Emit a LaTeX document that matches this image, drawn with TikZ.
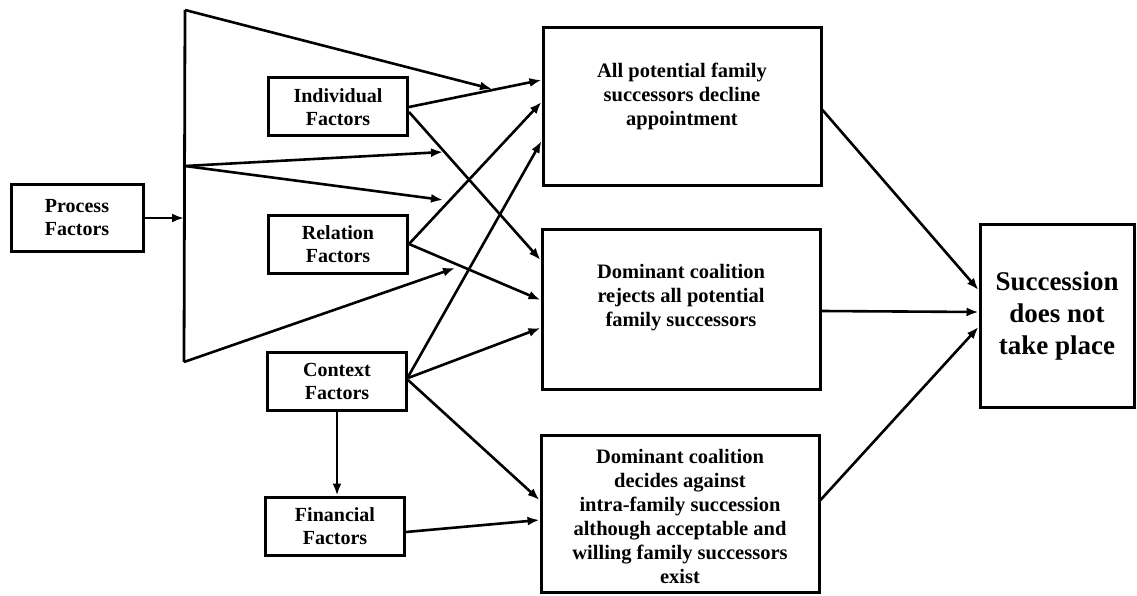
\documentclass[tikz,border=0pt]{standalone}
\usepackage{fontspec}
\setmainfont{Liberation Serif}
\usetikzlibrary{arrows.meta}

\begin{document}
\begin{tikzpicture}[auto,x=1pt,y=-1pt]
\tikzstyle{factor} = [rectangle, draw, line width=3pt, align=center, inner sep=0pt,
font=\bfseries\fontsize{20}{23}\selectfont, minimum width=139pt, minimum height=58pt]
\tikzstyle{outcome} = [rectangle, draw, line width=3pt, minimum width=278pt, minimum height=158pt]
\tikzstyle{outtext} = [align=center, inner sep=0pt, font=\bfseries\fontsize{20.5}{24}\selectfont]
\tikzstyle{final} = [rectangle, draw, line width=3pt, align=center, inner sep=0pt,
font=\bfseries\fontsize{27}{32}\selectfont, minimum width=154pt, minimum height=183pt]
\tikzstyle{line} = [draw, line width=2.6pt, -{Latex[length=12pt,width=9pt]}];

\useasboundingbox (0,0) rectangle (1137,596);

% factors
\node [factor, minimum width=132pt, minimum height=66pt] (process) at (77,218) {Process\\Factors};
\node [factor] (individual) at (338,107) {Individual\\Factors};
\node [factor] (relation) at (338,244) {Relation\\Factors};
\node [factor] (context) at (337,381) {Context\\Factors};
\node [factor] (financial) at (335,526) {Financial\\Factors};

% outcomes
\node [outcome] (decline) at (682,107) {};
\node [outtext] (declinetext) at ([yshift=11pt]decline.center) {All potential family\\successors decline\\appointment};
\node [outcome, minimum height=160pt] (reject) at (681,309) {};
\node [outtext] (rejecttext) at ([yshift=11pt]reject.center) {Dominant coalition\\rejects all potential\\family successors};
\node [outcome, minimum height=157pt] (decide) at (680,514) {};
\node [outtext] (decidetext) at ([yshift=-2pt]decide.center) {Dominant coalition\\decides against\\intra-family succession\\although acceptable and\\willing family successors\\exist};
\node [final] (nosucc) at (1057,316) {Succession\\does not\\take place};

% funnel
\coordinate (ftop) at (185,10);
\coordinate (fmid) at (185,166);
\coordinate (fbot) at (184,362);
\coordinate (ftopend) at (492,89);
\coordinate (fmidup) at (443,152);
\coordinate (fmiddown) at (443,200);
\coordinate (fbotend) at (455,268);
\draw [line width=2.8pt, line join=miter] (ftop) -- (fbot);

\tikzstyle{every path}=[line]
\path (process.east) -- (process.east -| fbot);
\path (ftop) -- (ftopend);
\path (fmid) -- (fmidup);
\path (fmid) -- (fmiddown);
\path (fbot) -- (fbotend);

\path (individual.east) -- ([yshift=27pt]decline.west);
\path ([yshift=-5pt]individual.east) -- ([yshift=49pt]reject.west);
\path (relation.east) -- ([yshift=5pt]decline.west);
\path (relation.east) -- ([yshift=9pt]reject.west);
\path ([yshift=4pt]context.east) -- ([yshift=-34pt]decline.west);
\path ([yshift=3pt]context.east) -- ([yshift=-19pt]reject.west);
\path ([yshift=1pt]context.east) -- ([yshift=14pt]decide.west);
\path (context.south) -- (context.south |- financial.north);
\path ([yshift=-6pt]financial.east) -- ([yshift=-6pt]decide.west);

\path ([yshift=-3pt]decline.east) -- ([yshift=26pt]nosucc.west);
\path ([yshift=-2pt]reject.east) -- ([yshift=4pt]nosucc.west);
\path ([yshift=14pt]decide.east) -- ([yshift=-11pt]nosucc.west);
\end{tikzpicture}
\end{document}
